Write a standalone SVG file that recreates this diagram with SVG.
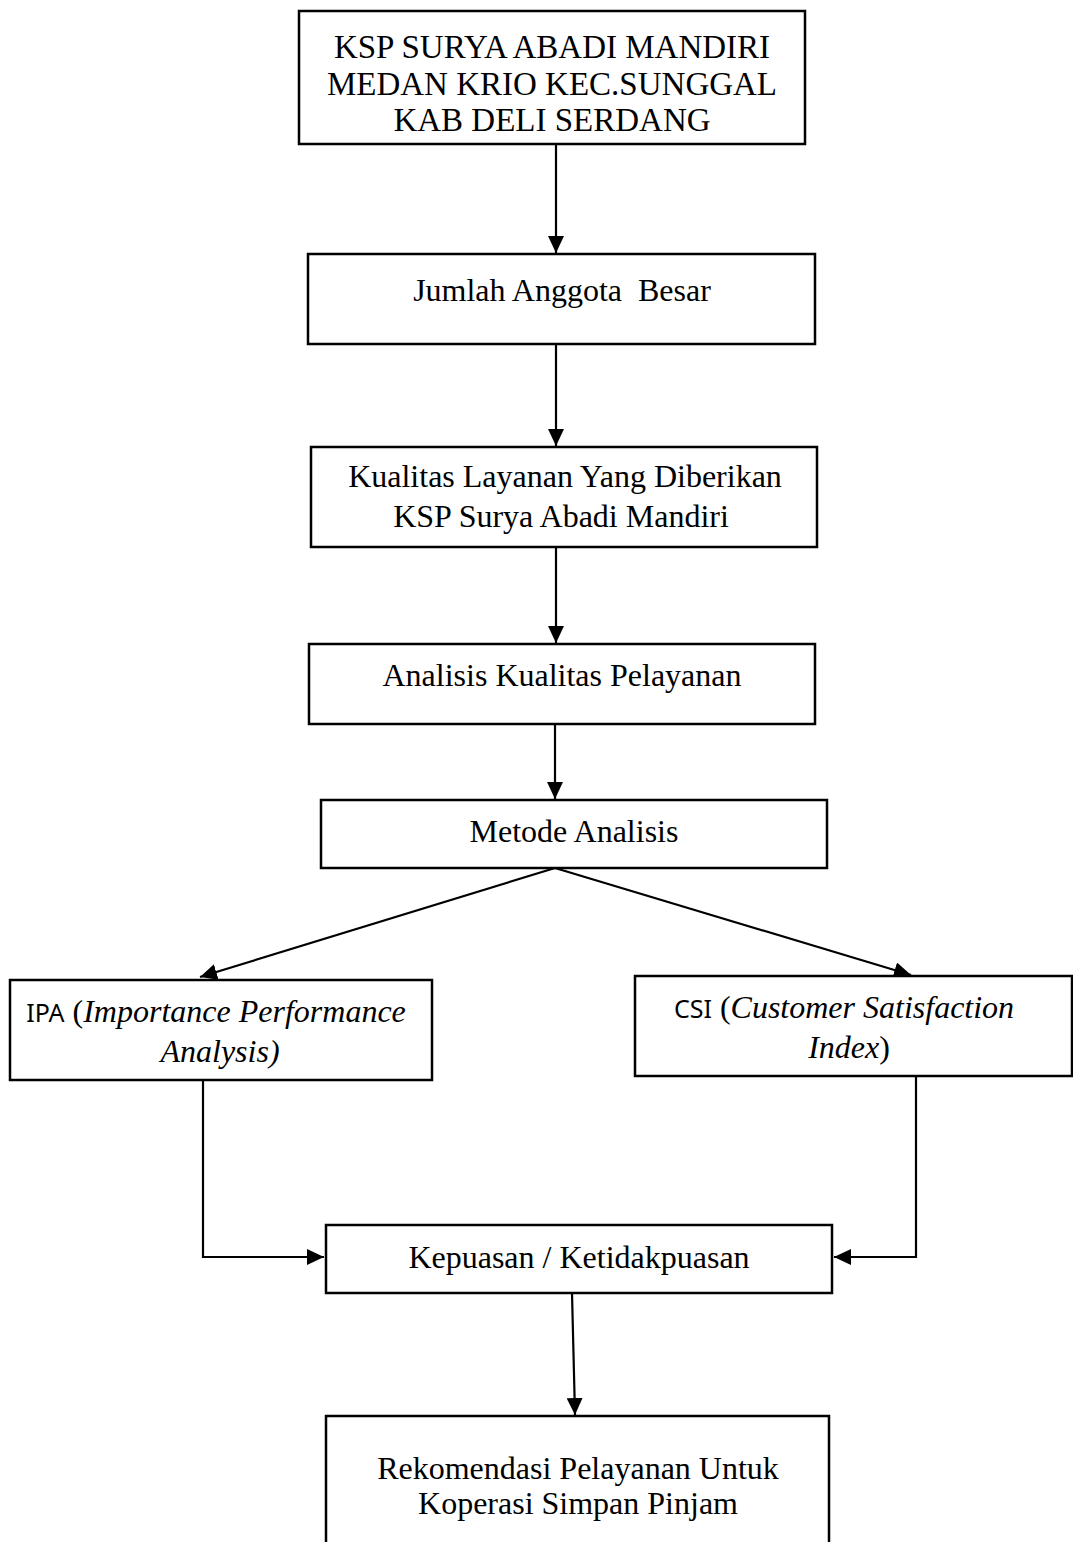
<svg xmlns="http://www.w3.org/2000/svg" width="1073" height="1542" viewBox="0 0 1073 1542">
<style>
.box{fill:#fff;stroke:#000;stroke-width:2.5}
.t{font-family:"Liberation Serif","Times New Roman",serif;font-size:32px;fill:#000;text-anchor:middle}
.big{font-size:33px}
.it{font-style:italic}
.s{font-family:"Noto Sans","Open Sans",sans-serif;font-style:normal;font-size:25px}
.c{fill:none;stroke:#000;stroke-width:2.2}
</style>
<defs>
<marker id="ah" markerUnits="userSpaceOnUse" markerWidth="18" markerHeight="16" refX="17" refY="8" orient="auto">
<path d="M0,0 L17,8 L0,16 z" fill="#000"/>
</marker>
</defs>
<rect width="1073" height="1542" fill="#fff"/>
<g id="connectors">
<line class="c" x1="556" y1="145" x2="556" y2="253" marker-end="url(#ah)"/>
<line class="c" x1="556" y1="344" x2="556" y2="446" marker-end="url(#ah)"/>
<line class="c" x1="556" y1="547" x2="556" y2="643" marker-end="url(#ah)"/>
<line class="c" x1="555" y1="724" x2="555" y2="799" marker-end="url(#ah)"/>
<line class="c" x1="555" y1="868" x2="200" y2="977" marker-end="url(#ah)"/>
<line class="c" x1="555" y1="868" x2="911" y2="975" marker-end="url(#ah)"/>
<polyline class="c" points="203,1080 203,1257 324,1257" marker-end="url(#ah)"/>
<polyline class="c" points="916,1076 916,1257 834,1257" marker-end="url(#ah)"/>
<line class="c" x1="572" y1="1293" x2="575" y2="1415" marker-end="url(#ah)"/>
</g>
<g id="n1">
<rect class="box" x="299" y="11" width="506" height="133"/>
<text class="t big" x="552" y="58">KSP SURYA ABADI MANDIRI</text>
<text class="t big" x="552" y="95">MEDAN KRIO KEC.SUNGGAL</text>
<text class="t big" x="552" y="131">KAB DELI SERDANG</text>
</g>
<g id="n2">
<rect class="box" x="308" y="254" width="507" height="90"/>
<text class="t" x="562" y="301" xml:space="preserve">Jumlah Anggota  Besar</text>
</g>
<g id="n3">
<rect class="box" x="311" y="447" width="506" height="100"/>
<text class="t" x="565" y="487">Kualitas Layanan Yang Diberikan</text>
<text class="t" x="561" y="527">KSP Surya Abadi Mandiri</text>
</g>
<g id="n4">
<rect class="box" x="309" y="644" width="506" height="80"/>
<text class="t" x="562" y="686">Analisis Kualitas Pelayanan</text>
</g>
<g id="n5">
<rect class="box" x="321" y="800" width="506" height="68"/>
<text class="t" x="574" y="842">Metode Analisis</text>
</g>
<g id="n6">
<rect class="box" x="10" y="980" width="422" height="100"/>
<text class="t" x="216" y="1022"><tspan class="s">IPA</tspan> (<tspan class="it">Importance Performance</tspan></text>
<text class="t it" x="220" y="1062">Analysis)</text>
</g>
<g id="n7">
<rect class="box" x="635" y="976" width="437" height="100"/>
<text class="t" x="844" y="1018"><tspan class="s">CSI</tspan> (<tspan class="it">Customer Satisfaction</tspan></text>
<text class="t" x="849" y="1058"><tspan class="it">Index</tspan>)</text>
</g>
<g id="n8">
<rect class="box" x="326" y="1225" width="506" height="68"/>
<text class="t" x="579" y="1268">Kepuasan / Ketidakpuasan</text>
</g>
<g id="n9">
<rect class="box" x="326" y="1416" width="503" height="140"/>
<text class="t" x="578" y="1479">Rekomendasi Pelayanan Untuk</text>
<text class="t" x="578" y="1514">Koperasi Simpan Pinjam</text>
</g>
</svg>
